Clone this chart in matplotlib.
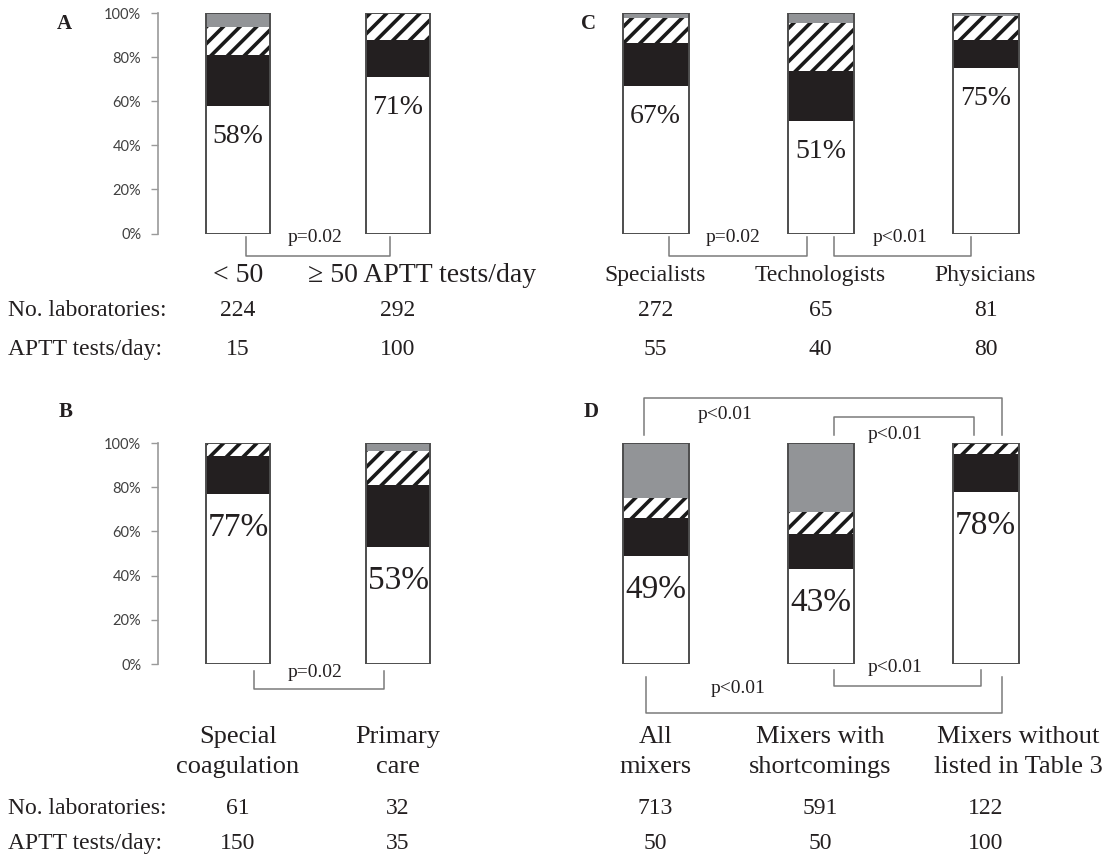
import matplotlib
matplotlib.use("Agg")
import matplotlib.pyplot as plt
from matplotlib.ticker import PercentFormatter
from matplotlib.transforms import blended_transform_factory

plt.rcParams["hatch.linewidth"] = 2.6

# ---- data (percent of laboratories, stacked bottom -> top) ----
a_cats = ["< 50", "\u2265 50 APTT tests/day"]
a_white = [58, 71]
a_black = [23, 17]
a_hatch = [13, 12]
a_grey = [6, 0]
a_labs = [224, 292]
a_tests = [15, 100]

b_cats = ["Special\ncoagulation", "Primary\ncare"]
b_white = [77, 53]
b_black = [17, 28]
b_hatch = [6, 15.5]
b_grey = [0, 3.5]
b_labs = [61, 32]
b_tests = [150, 35]

c_cats = ["Specialists", "Technologists", "Physicians"]
c_white = [67, 51, 75]
c_black = [19.5, 23, 13]
c_hatch = [11.5, 21.5, 11]
c_grey = [2, 4.5, 1]
c_labs = [272, 65, 81]
c_tests = [55, 40, 80]

d_cats = ["All\nmixers", "Mixers with\nshortcomings", "Mixers without\nlisted in Table 3"]
d_white = [49, 43, 78]
d_black = [17, 16, 17]
d_hatch = [9, 10, 5]
d_grey = [25, 31, 0]
d_labs = [713, 591, 122]
d_tests = [50, 50, 100]

SERIF = "Liberation Serif"
TXT = "#231f20"
LINE = "#7a7a7a"
W, H = 1104, 855


def draw_bars(ax, white, black, hatch, grey, label_size, label_drop):
    x = list(range(len(white)))
    bottom = [0] * len(x)
    ax.bar(x, white, 0.4, bottom=bottom, color="white", linewidth=0)
    bottom = [b + v for b, v in zip(bottom, white)]
    ax.bar(x, black, 0.4, bottom=bottom, color="#231f20", linewidth=0)
    bottom = [b + v for b, v in zip(bottom, black)]
    ax.bar(x, hatch, 0.4, bottom=bottom, color="white", edgecolor="#1a1a1a",
           hatch="//", linewidth=0)
    bottom = [b + v for b, v in zip(bottom, hatch)]
    ax.bar(x, grey, 0.4, bottom=bottom, color="#929497", linewidth=0)
    total = [b + v for b, v in zip(bottom, grey)]
    ax.bar(x, total, 0.4, fill=False, edgecolor="#4d4d4d", linewidth=1.4)
    for xi, w in zip(x, white):
        ax.text(xi, w - label_drop, f"{w}%", ha="center", va="center",
                family=SERIF, fontsize=label_size, color=TXT)
    ax.set_xlim(-0.5, len(x) - 0.5)
    ax.set_ylim(0, 100)
    ax.set_xticks([])


def style_axis(ax, show_y):
    for side in ("top", "right", "bottom"):
        ax.spines[side].set_visible(False)
    if show_y:
        ax.spines["left"].set_color("#9a9a9a")
        ax.spines["left"].set_linewidth(1.2)
        ax.set_yticks([0, 20, 40, 60, 80, 100])
        ax.yaxis.set_major_formatter(PercentFormatter(xmax=100, decimals=0))
        ax.tick_params(axis="y", length=5, width=1.0, color="#9a9a9a", pad=7,
                       labelsize=10.5, labelcolor="#404040")
        for lbl in ax.get_yticklabels():
            lbl.set_family("Lato")
    else:
        ax.spines["left"].set_visible(False)
        ax.set_yticks([])


def bracket(ax, x0, x1, y_end, y_bar, text, tx, ty, size=14):
    # vertical legs from y_end to y_bar, joined along y_bar
    ax.plot([x0, x0, x1, x1], [y_end, y_bar, y_bar, y_end], color=LINE,
            linewidth=1.1, clip_on=False, solid_joinstyle="round")
    ax.text(tx, ty, text, ha="center", va="center", family=SERIF,
            fontsize=size, color=TXT, clip_on=False)


def table_rows(fig, ax, cats, labs, tests, y_cat, y_labs, y_tests, cat_size,
               cat_dx=None):
    tr = blended_transform_factory(ax.transData, fig.transFigure)
    for i, (c, n, t) in enumerate(zip(cats, labs, tests)):
        dx = cat_dx[i] if cat_dx else 0
        ax.text(i + dx, y_cat, c, transform=tr, ha="center", va="center",
                family=SERIF, fontsize=cat_size, color=TXT, linespacing=1.5)
        ax.text(i, y_labs, str(n), transform=tr, ha="center", va="center",
                family=SERIF, fontsize=17, color=TXT)
        ax.text(i, y_tests, str(t), transform=tr, ha="center", va="center",
                family=SERIF, fontsize=17, color=TXT)


fig = plt.figure(figsize=(W / 100, H / 100), dpi=100)


def fy(px):
    return 1 - px / H


ax_a = fig.add_axes([158 / W, fy(233.5), 320 / W, 220 / H])
ax_b = fig.add_axes([158 / W, fy(664), 320 / W, 221 / H])
ax_c = fig.add_axes([573 / W, fy(233.5), 495 / W, 220 / H])
ax_d = fig.add_axes([573 / W, fy(664), 495 / W, 221 / H])

draw_bars(ax_a, a_white, a_black, a_hatch, a_grey, 20, 13.7)
draw_bars(ax_c, c_white, c_black, c_hatch, c_grey, 20, 13.7)
draw_bars(ax_b, b_white, b_black, b_hatch, b_grey, 24, 15.5)
draw_bars(ax_d, d_white, d_black, d_hatch, d_grey, 24, 15.5)

style_axis(ax_a, True)
style_axis(ax_b, True)
style_axis(ax_c, False)
style_axis(ax_d, False)

# significance brackets
bracket(ax_a, 0.05, 0.95, -1.6, -10.2, "p=0.02", 0.48, -1.8)
bracket(ax_b, 0.10, 0.91, -3.2, -11.3, "p=0.02", 0.48, -3.8)
bracket(ax_c, 0.08, 0.92, -1.6, -10.2, "p=0.02", 0.47, -1.8)
bracket(ax_c, 1.08, 1.91, -1.6, -10.2, "p<0.01", 1.48, -1.8)
bracket(ax_d, -0.07, 2.10, 103.6, 120.4, "p<0.01", 0.42, 112.7)
bracket(ax_d, 1.08, 1.93, 103.6, 111.8, "p<0.01", 1.45, 104.0)
bracket(ax_d, -0.06, 2.10, -5.9, -22.2, "p<0.01", 0.50, -10.9)
bracket(ax_d, 1.08, 1.97, -2.7, -10.0, "p<0.01", 1.45, -1.8)

# panel letters
for letter, (px, py) in zip("ABCD", [(64, 24), (66, 412), (589, 24), (591, 412)]):
    fig.text(px / W, fy(py), letter, ha="center", va="center", family=SERIF,
             fontsize=15, fontweight="bold", color=TXT)

# tables under the panels
table_rows(fig, ax_a, a_cats, a_labs, a_tests, fy(276), fy(310), fy(349), 20,
           cat_dx=[0, 0.15])
table_rows(fig, ax_c, c_cats, c_labs, c_tests, fy(276), fy(310), fy(349), 17)
table_rows(fig, ax_b, b_cats, b_labs, b_tests, fy(752), fy(808), fy(843), 19)
table_rows(fig, ax_d, d_cats, d_labs, d_tests, fy(752), fy(808), fy(843), 19,
           cat_dx=[0, 0.0, 0.2])

for label, py in [("No. laboratories:", 310), ("APTT tests/day:", 349),
                  ("No. laboratories:", 808), ("APTT tests/day:", 843)]:
    fig.text(8 / W, fy(py), label, ha="left", va="center", family=SERIF,
             fontsize=17, color=TXT)

fig.savefig("out.png", dpi=100, facecolor="white")
